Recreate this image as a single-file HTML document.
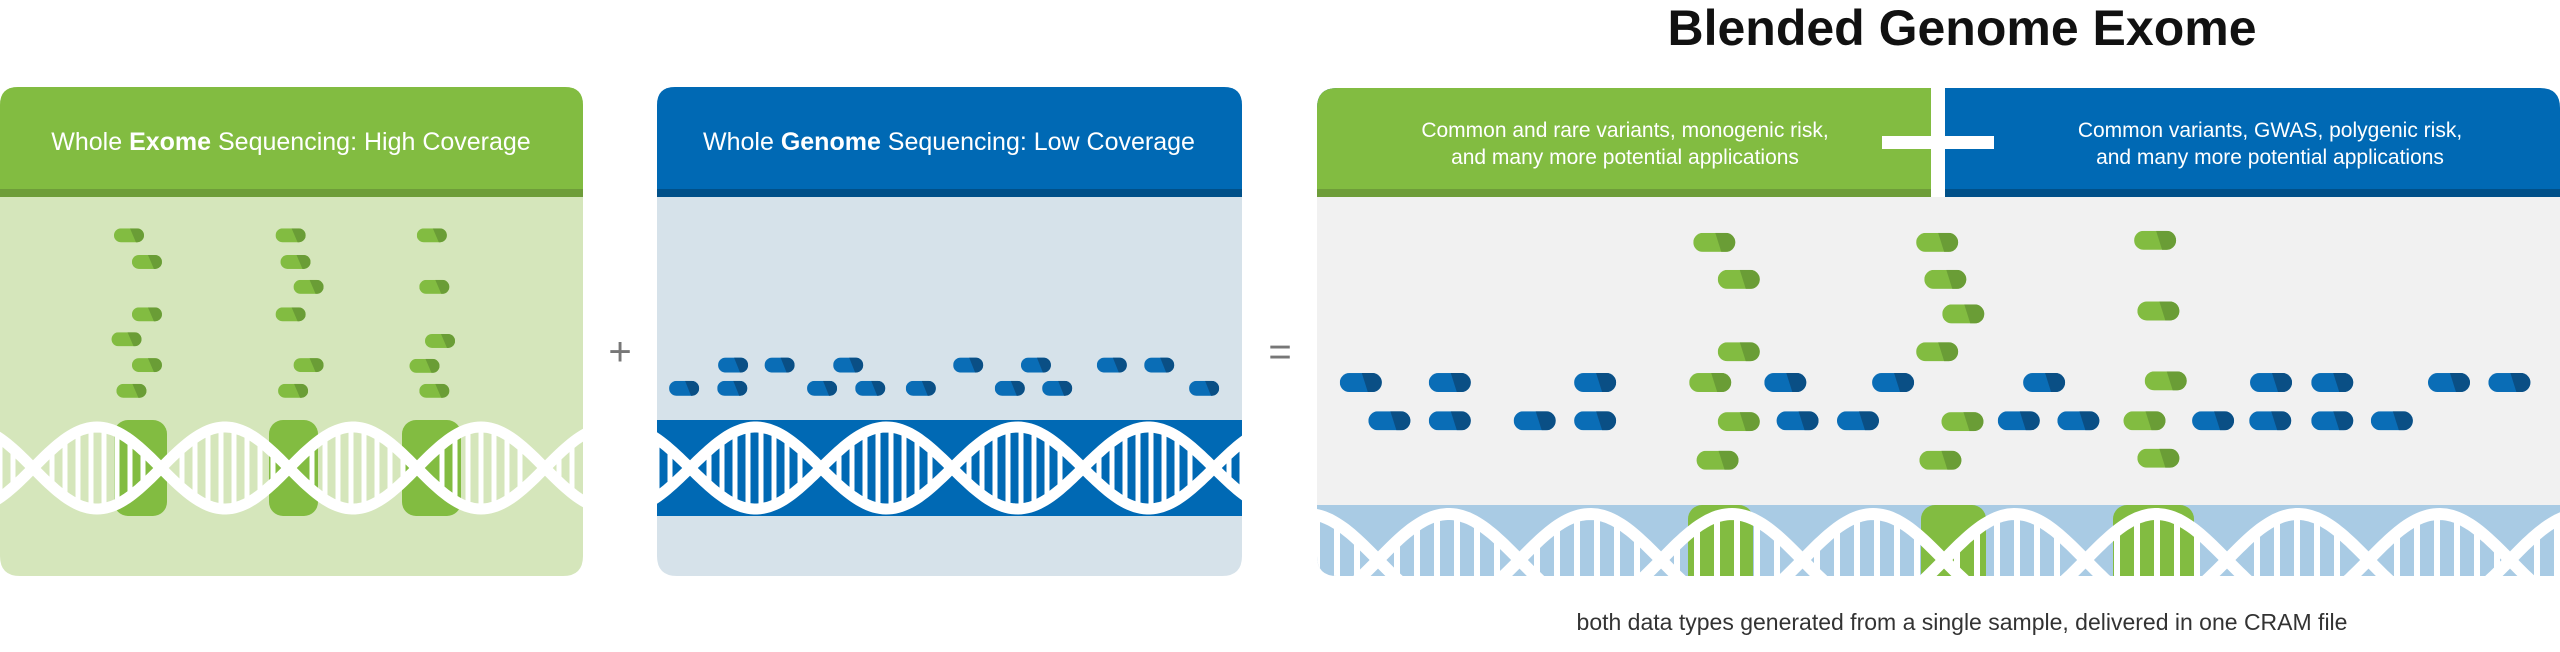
<!DOCTYPE html>
<html><head><meta charset="utf-8"><style>
html,body{margin:0;padding:0;background:#fff;width:2560px;height:652px;overflow:hidden}
svg{display:block}
text{font-family:"Liberation Sans",sans-serif}
</style></head><body>
<svg id="s" width="2560" height="652" viewBox="0 0 2560 652" xmlns="http://www.w3.org/2000/svg">
<defs>
<clipPath id="c1"><path d="M0,105 Q0,87 18,87 L565,87 Q583,87 583,105 L583,556 Q583,576 563,576 L20,576 Q0,576 0,556 Z"/></clipPath>
<clipPath id="c2"><path d="M675,87 L1224,87 Q1242,87 1242,105 L1242,556 Q1242,576 1222,576 L677,576 Q657,576 657,556 L657,105 Q657,87 675,87 Z"/></clipPath>
<clipPath id="c3"><path d="M1337,88 L2540,88 Q2560,88 2560,108 L2560,576 L1337,576 Q1317,576 1317,556 L1317,108 Q1317,88 1337,88 Z"/></clipPath>
</defs>
<g clip-path="url(#c1)">
<rect x="0" y="87" width="583" height="489" fill="#d5e6bb"/>
<rect x="0" y="87" width="583" height="103" fill="#82bc41"/>
<rect x="0" y="189" width="583" height="8" fill="#6e9d39"/>
<g id="dna1"></g>
</g>
<text x="291" y="150" text-anchor="middle" font-size="25" fill="#fff">Whole <tspan font-weight="bold">Exome</tspan> Sequencing: High Coverage</text>
<text x="620" y="365" text-anchor="middle" font-size="40" fill="#777">+</text>
<g clip-path="url(#c2)">
<rect x="657" y="87" width="585" height="489" fill="#d6e2ea"/>
<rect x="657" y="87" width="585" height="103" fill="#0069b4"/>
<rect x="657" y="189" width="585" height="8" fill="#005089"/>
<rect x="657" y="420" width="585" height="96" fill="#0069b4"/>
<g id="dna2"></g>
</g>
<text x="949" y="150" text-anchor="middle" font-size="25" fill="#fff">Whole <tspan font-weight="bold">Genome</tspan> Sequencing: Low Coverage</text>
<text x="1280" y="365" text-anchor="middle" font-size="40" fill="#777">=</text>
<text x="1962" y="45" text-anchor="middle" font-size="50" font-weight="bold" fill="#111">Blended Genome Exome</text>
<g clip-path="url(#c3)">
<rect x="1317" y="88" width="1243" height="488" fill="#f1f1f1"/>
<rect x="1317" y="88" width="1243" height="102" fill="#0069b4"/>
<rect x="1317" y="88" width="615" height="102" fill="#82bc41"/>
<rect x="1317" y="189" width="615" height="8" fill="#6e9d39"/>
<rect x="1945" y="189" width="615" height="8" fill="#005089"/>
<rect x="1931" y="88" width="14" height="109" fill="#fff"/>
<rect x="1317" y="505" width="1243" height="72" fill="#a9cbe4"/>
<g id="dna3"></g>
</g>
<rect x="1882" y="136" width="112" height="13" fill="#fff"/>
<text x="1625" y="137" text-anchor="middle" font-size="21" fill="#fff">Common and rare variants, monogenic risk,</text>
<text x="1625" y="164" text-anchor="middle" font-size="21" fill="#fff">and many more potential applications</text>
<text x="2270" y="137" text-anchor="middle" font-size="21" fill="#fff">Common variants, GWAS, polygenic risk,</text>
<text x="2270" y="164" text-anchor="middle" font-size="21" fill="#fff">and many more potential applications</text>
<text x="1962" y="630" text-anchor="middle" font-size="23" fill="#333">both data types generated from a single sample, delivered in one CRAM file</text>
<g id="pills"></g>
</svg>
<script>
var NS="http://www.w3.org/2000/svg";
function el(p,t,a){var e=document.createElementNS(NS,t);for(var k in a)e.setAttribute(k,a[k]);p.appendChild(e);return e;}
function dna(id,x0,x1,c,A,half,first,rw,rs,sw,hl,hlTop,hlBot){
 var g=document.getElementById(id);
 hl.forEach(function(h){el(g,'rect',{x:h[0],y:hlTop,width:h[1]-h[0],height:hlBot-hlTop,rx:14,fill:'#82bc41'});});
 function f(x){return c+A*Math.sin(Math.PI*(x-first)/half);}
 for(var x=x0;x<=x1;x+=rs){var y=f(x),y2=2*c-y;var d=Math.abs(y-c);if(d>12){el(g,'rect',{x:x-rw/2,y:Math.min(y,y2),width:rw,height:Math.abs(y2-y),fill:'#fff'});}}
 [1,-1].forEach(function(s){var d='';for(var x=x0-20;x<=x1+20;x+=3){var y=c+s*A*Math.sin(Math.PI*(x-first)/half);d+=(d?'L':'M')+x.toFixed(1)+','+y.toFixed(1);}el(g,'path',{d:d,fill:'none',stroke:'#fff','stroke-width':sw});});
}
dna('dna1',0,583,468,41,128,33,5,13,11,[[114,167],[269,318],[402,461]],420,516);
dna('dna2',657,1242,468,41,131,690,5,13,11,[],420,516);
dna('dna3',1317,2560,560,46,141.5,1378,6,20,12,[[1688,1753],[1921,1986],[2113,2194]],505,600);
var pg=document.getElementById('pills');
function pill(x,y,w,h,l,dk){var g=el(pg,'g',{});var id='p'+Math.random().toString(36).slice(2);
 var cp=el(g,'clipPath',{id:id});el(cp,'rect',{x:x-w/2,y:y-h/2,width:w,height:h,rx:h/2});
 var gg=el(g,'g',{'clip-path':'url(#'+id+')'});
 el(gg,'rect',{x:x-w/2,y:y-h/2,width:w,height:h,fill:l});
 el(gg,'polygon',{points:(x+1)+','+(y-h/2)+' '+(x+w)+','+(y-h/2)+' '+(x+w)+','+(y+h/2)+' '+(x+7)+','+(y+h/2),fill:dk});}
var G='#82bc41',GD='#6a9d36',B='#0a6db6',BD='#0a4f85';
var sx=1.225,sy=2.405;
[[158,566],[180,630],[180,756],[155,816],[180,878],[161,940],[356,566],[362,630],[378,690],[356,756],[378,878],[359,940],[529,566],[532,690],[539,820],[520,880],[532,940]].forEach(function(p){pill(p[0]/sx,p[1]/sy,30,14,G,GD);});
[898,955,1039,1186,1269,1362,1420].forEach(function(x){pill(x/sx,878/sy,30,15,B,BD);});
[838,897,1007,1066,1128,1237,1295,1475].forEach(function(x){pill(x/sx,934/sy,30,15,B,BD);});
[[532,583],[562,672],[562,846],[527,920],[562,1014],[536,1107],[805,583],[815,672],[837,755],[805,846],[836,1014],[809,1107],[1072,578],[1076,748],[1085,916],[1059,1012],[1076,1102]].forEach(function(p){pill(1280+p[0]/sx,p[1]/sy,42,19,G,GD);});
[99,208,386,619,751,936,1214,1289,1432,1506].forEach(function(x){pill(1280+x/sx,920/sy,42,19,B,BD);});
[134,208,312,386,634,708,905,978,1143,1213,1289,1362].forEach(function(x){pill(1280+x/sx,1012/sy,42,19,B,BD);});
</script>
</body></html>
